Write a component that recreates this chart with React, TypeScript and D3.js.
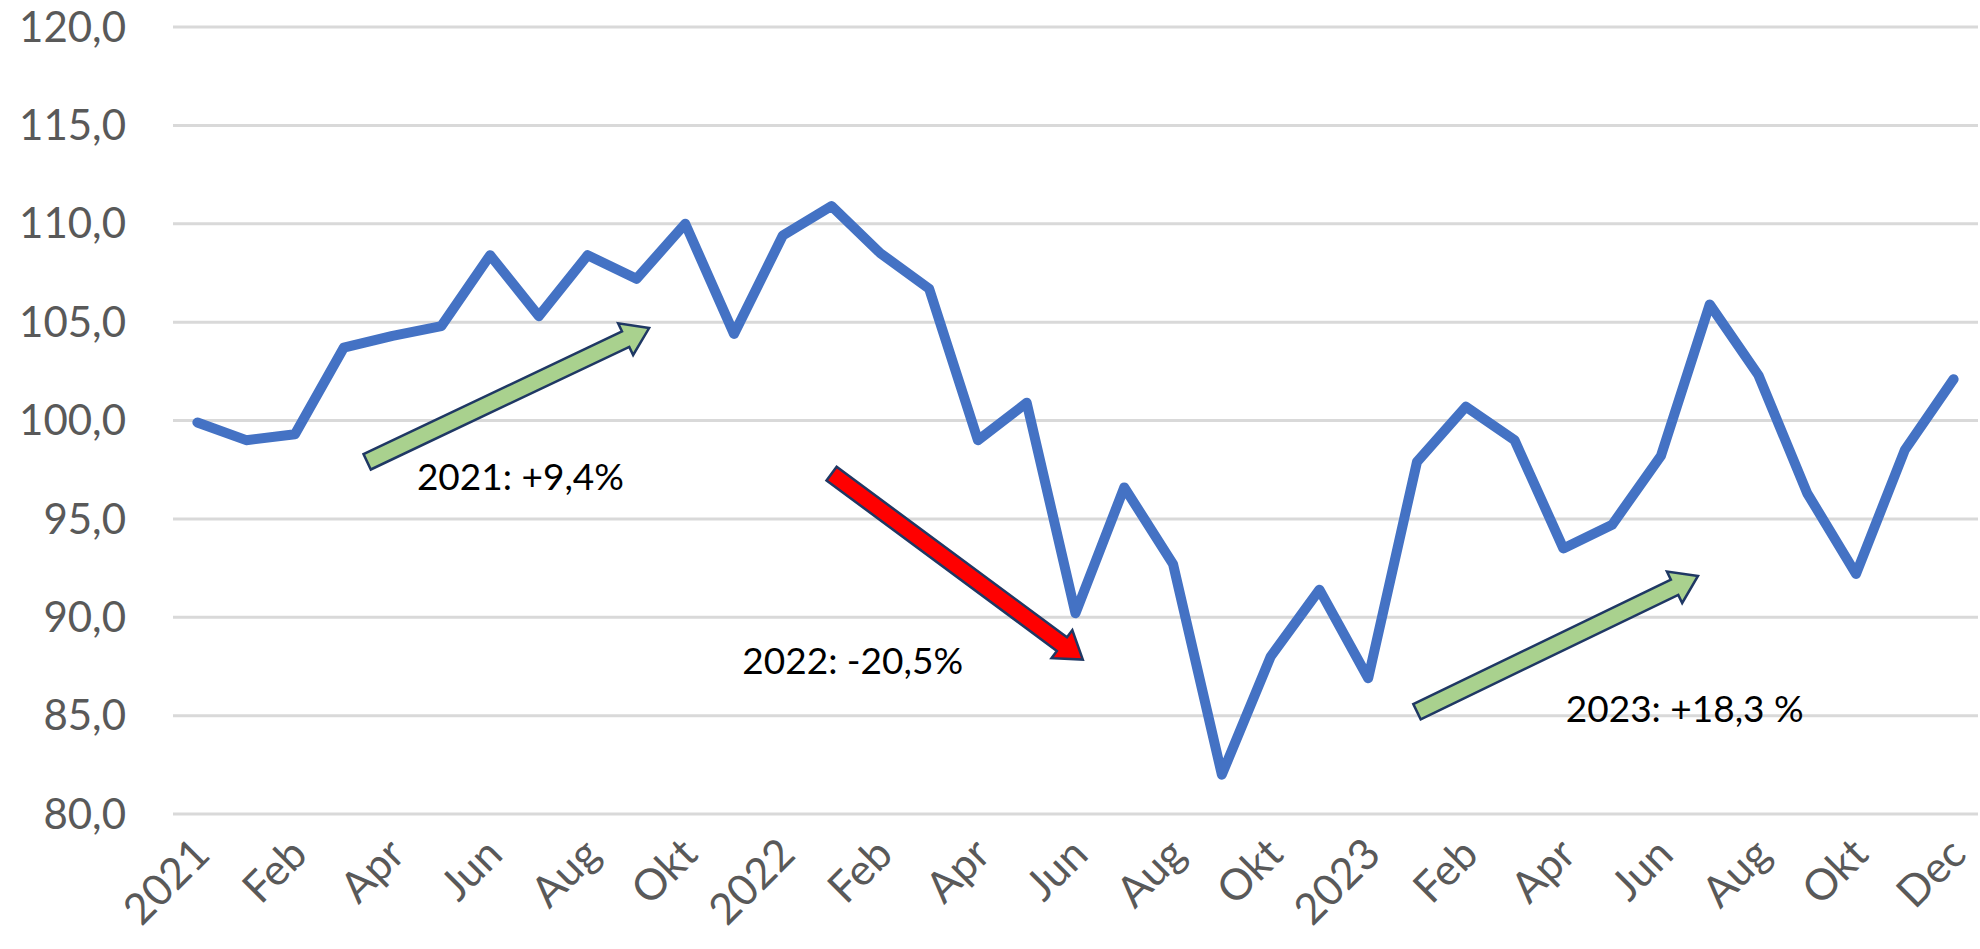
import React, { useRef, useEffect } from "react";
import * as d3 from "d3";

// Index, base = 100 (end of 2020)
const categories = [
  "2021", "Jan", "Feb", "Mar", "Apr", "Maj", "Jun", "Jul", "Aug", "Sep", "Okt", "Nov",
  "2022", "Jan", "Feb", "Mar", "Apr", "Maj", "Jun", "Jul", "Aug", "Sep", "Okt", "Nov",
  "2023", "Jan", "Feb", "Mar", "Apr", "Maj", "Jun", "Jul", "Aug", "Sep", "Okt", "Nov", "Dec",
];

const values = [
  99.9, 99.0, 99.3, 103.7, 104.3, 104.8, 108.4, 105.3, 108.4, 107.2, 110.0, 104.4,
  109.4, 110.9, 108.5, 106.7, 99.0, 100.9, 90.2, 96.6, 92.7, 82.0, 88.0, 91.4,
  86.9, 97.9, 100.7, 99.0, 93.5, 94.7, 98.2, 105.9, 102.3, 96.3, 92.2, 98.5, 102.1,
];

const yTicks = [80, 85, 90, 95, 100, 105, 110, 115, 120];

// arrows in data space: [category index, value]
const arrows = [
  { from: [3.48, 97.9], to: [9.26, 104.7], fill: "#A9D18E" },
  { from: [13.0, 97.3], to: [18.15, 87.85], fill: "#FF0000" },
  { from: [25.0, 85.2], to: [30.76, 92.1], fill: "#A9D18E" },
];

const notes = [
  { at: [4.5, 96.45], text: "2021: +9,4%" },
  { at: [11.17, 87.1], text: "2022: -20,5%" },
  { at: [28.05, 84.7], text: "2023: +18,3 %" },
];

const W = 1980;
const H = 949;
const FONT = "Lato, 'Liberation Sans', sans-serif";

const App = () => {
  const svgRef = useRef<SVGSVGElement>(null);

  useEffect(() => {
    document.body.style.margin = "0";
    const svg = d3.select(svgRef.current);
    svg.selectAll("*").remove();

    const margin = { top: 27, right: 2, bottom: 135, left: 173 };
    const width = W - margin.left - margin.right;
    const height = H - margin.top - margin.bottom;

    const g = svg.append("g").attr("transform", `translate(${margin.left},${margin.top})`);

    const x = d3.scaleBand<number>()
      .domain(d3.range(categories.length))
      .range([0, width])
      .padding(0);
    const xc = (i: number) => (x(Math.floor(i)) ?? 0) + x.bandwidth() / 2 + (i - Math.floor(i)) * x.bandwidth();

    const y = d3.scaleLinear().domain([80, 120]).range([height, 0]);

    // gridlines
    g.append("g")
      .selectAll("line")
      .data(yTicks)
      .join("line")
      .attr("x1", 0)
      .attr("x2", width)
      .attr("y1", d => y(d))
      .attr("y2", d => y(d))
      .attr("stroke", "#D9D9D9")
      .attr("stroke-width", 3);

    // y labels
    g.append("g")
      .selectAll("text")
      .data(yTicks)
      .join("text")
      .attr("x", -47)
      .attr("y", d => y(d))
      .attr("dy", "0.35em")
      .attr("text-anchor", "end")
      .style("font-family", FONT)
      .style("font-size", "42px")
      .style("fill", "#595959")
      .text(d => d.toFixed(1).replace(".", ","));

    // x labels, every second category
    g.append("g")
      .selectAll("text")
      .data(d3.range(0, categories.length, 2))
      .join("text")
      .attr("transform", d => `translate(${xc(d) + 4},${height + 32}) rotate(-45)`)
      .attr("dy", "0.35em")
      .attr("text-anchor", "end")
      .style("font-family", FONT)
      .style("font-size", "43px")
      .style("fill", "#595959")
      .text(d => categories[d]);

    // line
    const line = d3.line<number>()
      .x((_, i) => xc(i))
      .y(d => y(d));

    g.append("path")
      .datum(values)
      .attr("d", line)
      .attr("fill", "none")
      .attr("stroke", "#4472C4")
      .attr("stroke-width", 10)
      .attr("stroke-linejoin", "round")
      .attr("stroke-linecap", "round");

    // block arrows
    const shaft = 8.5, head = 17.5, headLen = 26;
    arrows.forEach(a => {
      const x0 = xc(a.from[0]), y0 = y(a.from[1]);
      const x1 = xc(a.to[0]), y1 = y(a.to[1]);
      const len = Math.hypot(x1 - x0, y1 - y0);
      const ux = (x1 - x0) / len, uy = (y1 - y0) / len;
      const nx = -uy, ny = ux;
      const bx = x1 - ux * headLen, by = y1 - uy * headLen;
      const pts = [
        [x0 + nx * shaft, y0 + ny * shaft],
        [bx + nx * shaft, by + ny * shaft],
        [bx + nx * head, by + ny * head],
        [x1, y1],
        [bx - nx * head, by - ny * head],
        [bx - nx * shaft, by - ny * shaft],
        [x0 - nx * shaft, y0 - ny * shaft],
      ];
      g.append("polygon")
        .attr("points", pts.map(p => p.join(",")).join(" "))
        .attr("fill", a.fill)
        .attr("stroke", "#1F3864")
        .attr("stroke-width", 2.5)
        .attr("stroke-linejoin", "miter");
    });

    g.append("g")
      .selectAll("text")
      .data(notes)
      .join("text")
      .attr("x", d => xc(d.at[0]))
      .attr("y", d => y(d.at[1]))
      .style("font-family", FONT)
      .style("font-size", "37px")
      .style("fill", "#000")
      .text(d => d.text);
  }, []);

  return <svg ref={svgRef} width={W} height={H} style={{ display: "block", background: "#fff" }} />;
};

export default App;
